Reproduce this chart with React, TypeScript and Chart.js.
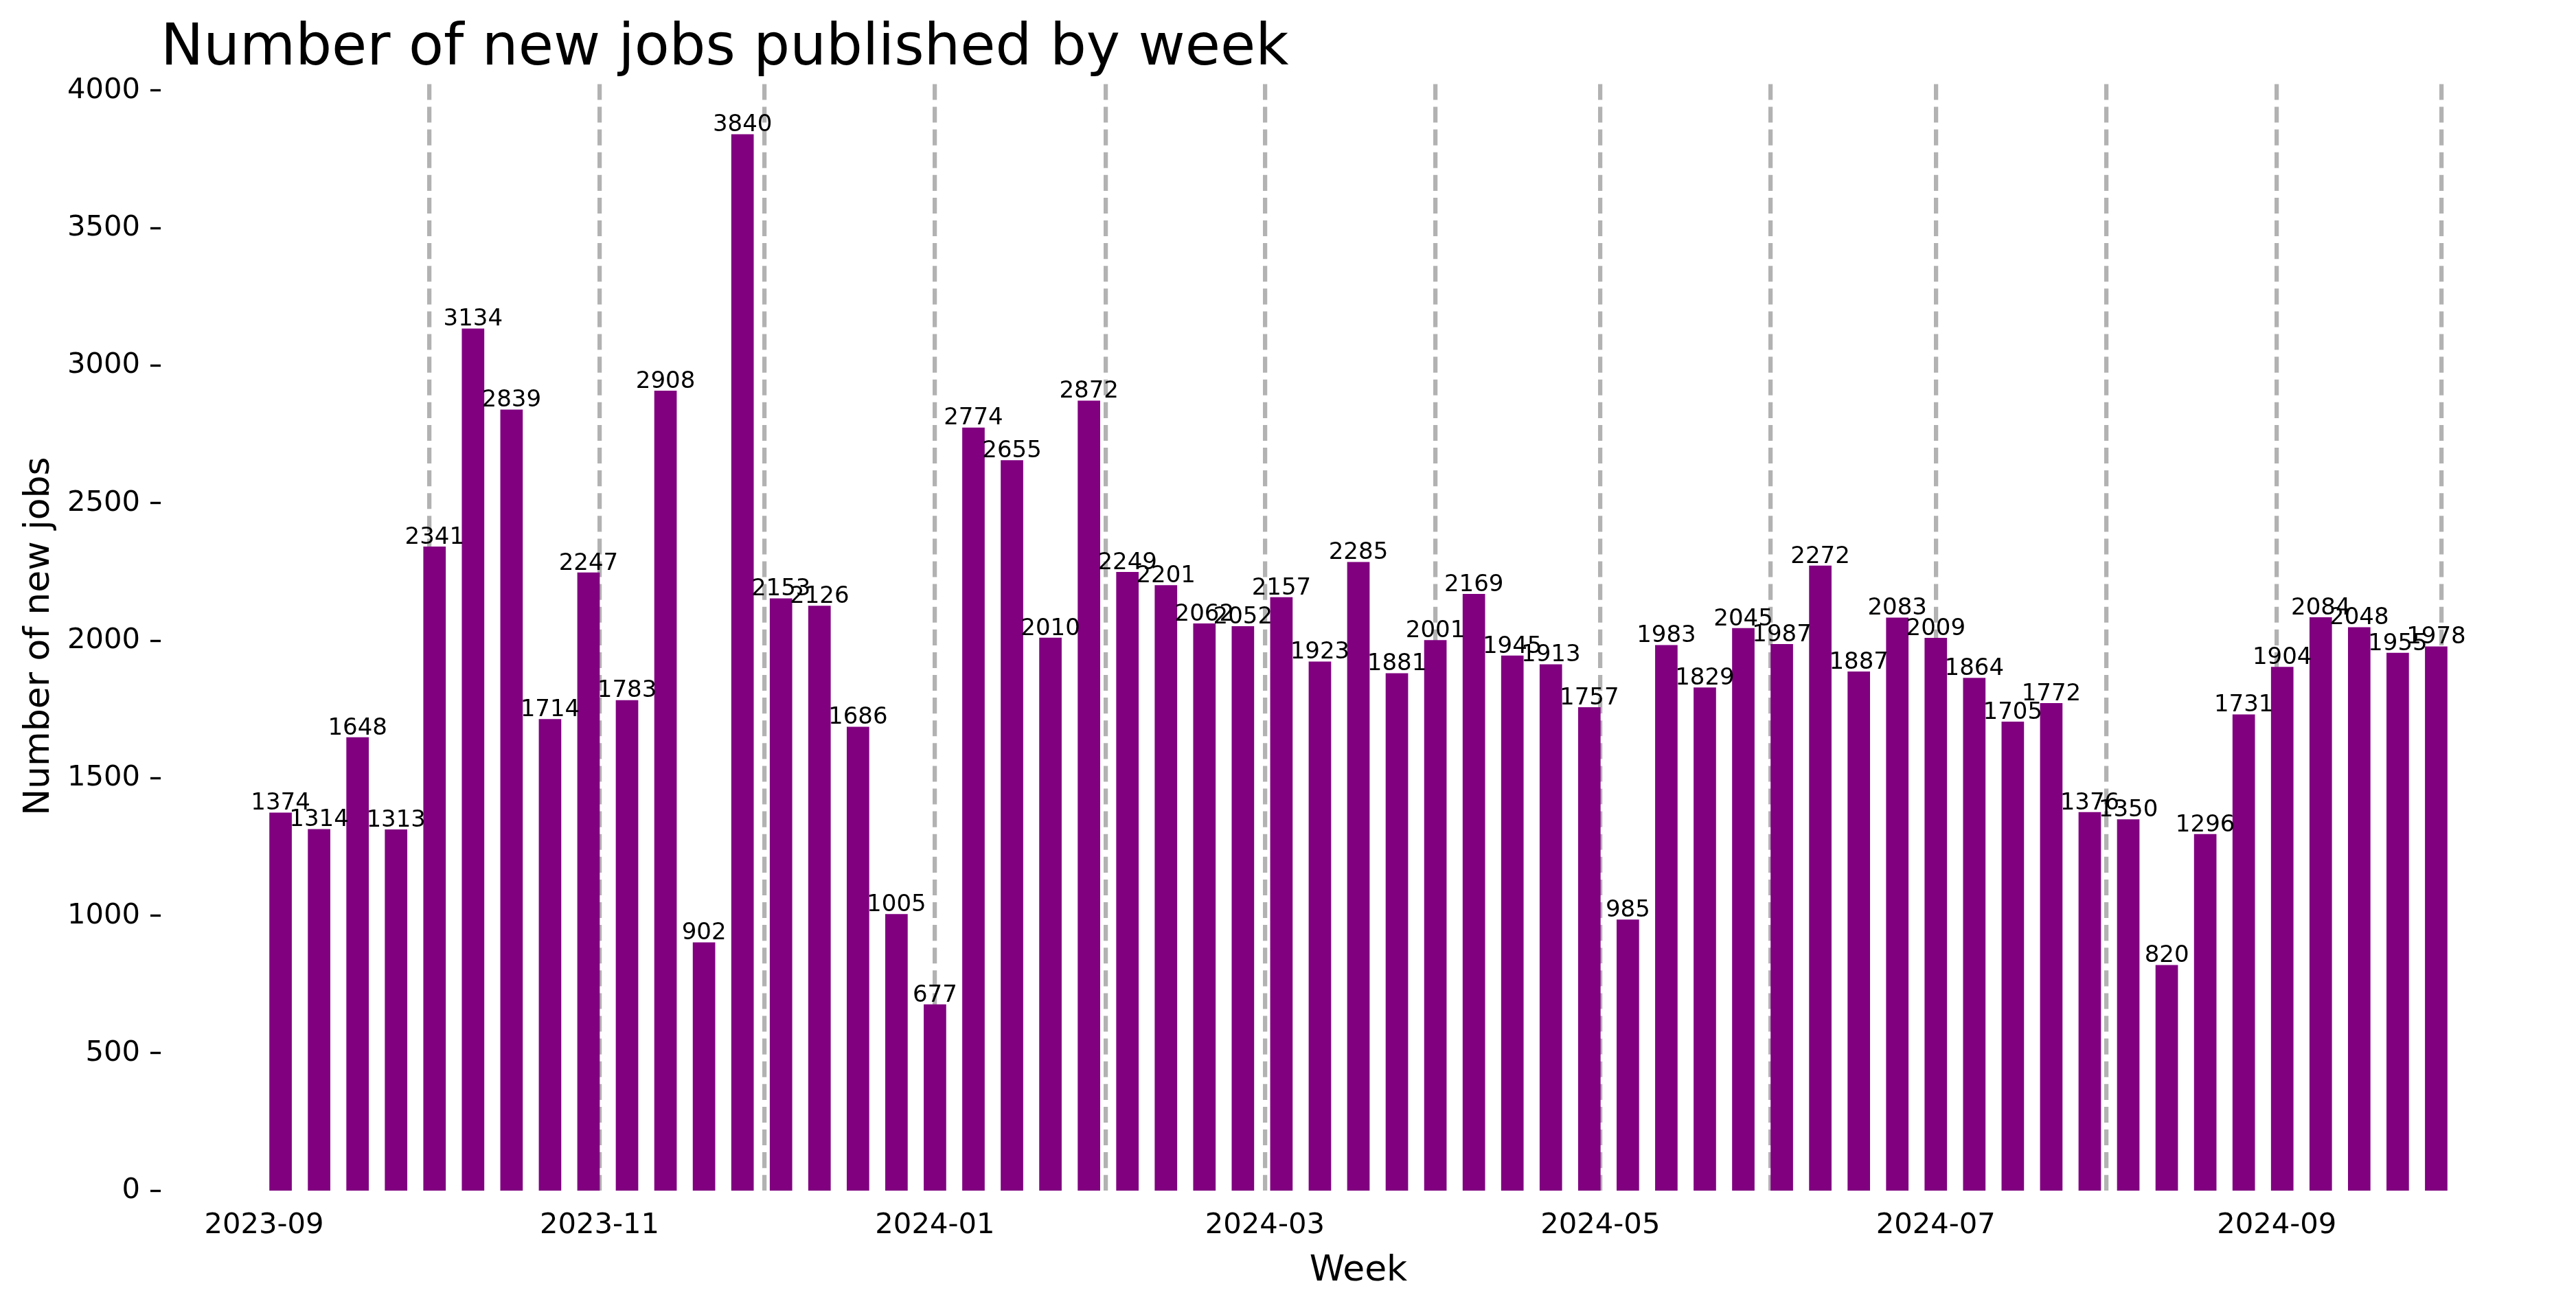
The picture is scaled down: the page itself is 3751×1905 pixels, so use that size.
import { useEffect, useRef } from "react";
import { Chart, registerables } from "chart.js";

Chart.register(...registerables);

const chartTitle = "Number of new jobs published by week";
const xAxisLabel = "Week";
const yAxisLabel = "Number of new jobs";

const weekStarts = [
  "2023-09-04", "2023-09-11", "2023-09-18", "2023-09-25",
  "2023-10-02", "2023-10-09", "2023-10-16", "2023-10-23", "2023-10-30",
  "2023-11-06", "2023-11-13", "2023-11-20", "2023-11-27",
  "2023-12-04", "2023-12-11", "2023-12-18", "2023-12-25",
  "2024-01-01", "2024-01-08", "2024-01-15", "2024-01-22", "2024-01-29",
  "2024-02-05", "2024-02-12", "2024-02-19", "2024-02-26",
  "2024-03-04", "2024-03-11", "2024-03-18", "2024-03-25",
  "2024-04-01", "2024-04-08", "2024-04-15", "2024-04-22", "2024-04-29",
  "2024-05-06", "2024-05-13", "2024-05-20", "2024-05-27",
  "2024-06-03", "2024-06-10", "2024-06-17", "2024-06-24",
  "2024-07-01", "2024-07-08", "2024-07-15", "2024-07-22", "2024-07-29",
  "2024-08-05", "2024-08-12", "2024-08-19", "2024-08-26",
  "2024-09-02", "2024-09-09", "2024-09-16", "2024-09-23", "2024-09-30",
];

const newJobs = [
  1374, 1314, 1648, 1313,
  2341, 3134, 2839, 1714, 2247,
  1783, 2908, 902, 3840,
  2153, 2126, 1686, 1005,
  677, 2774, 2655, 2010, 2872,
  2249, 2201, 2062, 2052,
  2157, 1923, 2285, 1881,
  2001, 2169, 1945, 1913, 1757,
  985, 1983, 1829, 2045,
  1987, 2272, 1887, 2083,
  2009, 1864, 1705, 1772, 1376,
  1350, 820, 1296, 1731,
  1904, 2084, 2048, 1955, 1978,
];

const monthLines = [
  "2023-10-01", "2023-11-01", "2023-12-01", "2024-01-01", "2024-02-01",
  "2024-03-01", "2024-04-01", "2024-05-01", "2024-06-01", "2024-07-01",
  "2024-08-01", "2024-09-01", "2024-10-01",
];

const xTickDates = [
  "2023-09-01", "2023-11-01", "2024-01-01", "2024-03-01",
  "2024-05-01", "2024-07-01", "2024-09-01",
];
const xTickLabels = [
  "2023-09", "2023-11", "2024-01", "2024-03", "2024-05", "2024-07", "2024-09",
];

const yTicks = [0, 500, 1000, 1500, 2000, 2500, 3000, 3500, 4000];

const ORIGIN = Date.UTC(2023, 8, 1);
const toDay = (s: string) => {
  const [y, m, d] = s.split("-").map(Number);
  return (Date.UTC(y, m - 1, d) - ORIGIN) / 86400000;
};

const FONT = '"DejaVu Sans", "Liberation Sans", sans-serif';
const W = 3751;
const H = 1905;
const BAR_DAYS = 4;

export default function App() {
  const ref = useRef<HTMLCanvasElement | null>(null);

  useEffect(() => {
    const canvas = ref.current;
    if (!canvas) return;

    const xs = weekStarts.map(toDay);
    const lo = Math.min(...xs) - BAR_DAYS / 2;
    const hi = Math.max(...xs) + BAR_DAYS / 2;
    const margin = (hi - lo) * 0.05;
    const xMin = lo - margin;
    const xMax = hi + margin;
    const yMax = Math.max(...newJobs) * 1.05;

    const tickDays = xTickDates.map(toDay);
    const lineDays = monthLines.map(toDay);

    const chartLeft = 234;
    const chartRight = 3722;
    const chartTop = 119;
    const chartBottom = 1734.3;
    const pxPerDay = (chartRight - chartLeft) / (xMax - xMin);

    const textPlugin = {
      id: "texts",
      afterDraw(chart: any) {
        const ctx = chart.ctx as CanvasRenderingContext2D;
        const area = chart.chartArea;
        ctx.save();
        ctx.fillStyle = "#000";
        const meta = chart.getDatasetMeta(0);
        ctx.font = `34px ${FONT}`;
        ctx.textAlign = "center";
        ctx.textBaseline = "alphabetic";
        meta.data.forEach((el: any, i: number) => {
          ctx.fillText(String(newJobs[i]), el.x, el.y - 4.5);
        });
        ctx.font = `83.3px ${FONT}`;
        ctx.textAlign = "left";
        ctx.fillText(chartTitle, area.left, area.top - 24.7);
        ctx.font = `52px ${FONT}`;
        ctx.textAlign = "center";
        ctx.fillText(xAxisLabel, (area.left + area.right) / 2, area.bottom + 131);
        ctx.translate(71, (area.top + area.bottom) / 2);
        ctx.rotate(-Math.PI / 2);
        ctx.fillText(yAxisLabel, 0, 0);
        ctx.restore();
      },
    };

    const chart = new Chart(canvas, {
      type: "bar",
      data: {
        datasets: [
          {
            data: xs.map((x, i) => ({ x, y: newJobs[i] })),
            backgroundColor: "#800080",
            borderWidth: 0,
            barThickness: BAR_DAYS * pxPerDay,
            xAxisID: "x",
            yAxisID: "y",
          },
        ],
      },
      options: {
        animation: false,
        responsive: false,
        maintainAspectRatio: false,
        events: [],
        layout: {
          padding: { top: chartTop, right: W - chartRight, left: 0, bottom: 0 },
        },
        plugins: {
          legend: { display: false },
          tooltip: { enabled: false },
          title: { display: false },
        },
        scales: {
          x: {
            type: "linear",
            position: "bottom",
            min: xMin,
            max: xMax,
            offset: false,
            grid: { display: false, drawTicks: false, offset: false },
            border: { display: false },
            afterBuildTicks: (scale: any) => {
              scale.ticks = tickDays.map((v) => ({ value: v }));
            },
            afterFit: (scale: any) => {
              scale.height = H - chartBottom;
            },
            ticks: {
              autoSkip: false,
              maxRotation: 0,
              minRotation: 0,
              padding: 26,
              color: "#000",
              font: { family: FONT, size: 41.7 },
              callback: (value: any) => {
                const idx = tickDays.indexOf(Number(value));
                return idx >= 0 ? xTickLabels[idx] : "";
              },
            },
          },
          x2: {
            type: "linear",
            position: "bottom",
            min: xMin,
            max: xMax,
            offset: false,
            z: 1,
            grid: {
              display: true,
              drawOnChartArea: true,
              drawTicks: false,
              offset: false,
              color: "rgba(0,0,0,0.3)",
              lineWidth: 6.25,
            },
            border: { display: false, dash: [23.1, 10], dashOffset: 29.7 },
            ticks: { display: false },
            afterBuildTicks: (scale: any) => {
              scale.ticks = lineDays.map((v) => ({ value: v }));
            },
            afterFit: (scale: any) => {
              scale.height = 0;
            },
          },
          y: {
            type: "linear",
            position: "left",
            min: 0,
            max: yMax,
            grid: {
              display: true,
              drawOnChartArea: false,
              drawTicks: true,
              tickLength: 15,
              tickColor: "#000",
              tickWidth: 3.33,
            },
            border: { display: false },
            afterBuildTicks: (scale: any) => {
              scale.ticks = yTicks.map((v) => ({ value: v }));
            },
            afterFit: (scale: any) => {
              scale.width = chartLeft;
            },
            ticks: {
              padding: 15,
              color: "#000",
              font: { family: FONT, size: 41.7 },
              callback: (value: any) => String(value),
            },
          },
        },
      },
      plugins: [textPlugin],
    } as any);

    return () => chart.destroy();
  }, []);

  return (
    <div style={{ position: "fixed", left: 0, top: 0, width: W, height: H, background: "#fff" }}>
      <canvas ref={ref} width={W} height={H} style={{ display: "block", width: W, height: H }} />
    </div>
  );
}
